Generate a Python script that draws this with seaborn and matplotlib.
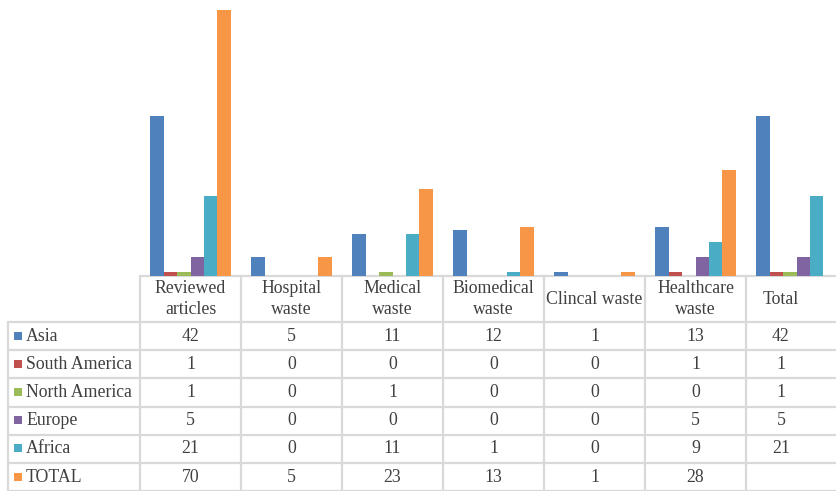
import numpy as np
import pandas as pd
import matplotlib
matplotlib.use("Agg")
import matplotlib.pyplot as plt
import seaborn as sns

categories = ["Reviewed\narticles", "Hospital\nwaste", "Medical\nwaste", "Biomedical\nwaste",
              "Clincal waste", "Healthcare\nwaste", "Total"]
regions = ["Asia", "South America", "North America", "Europe", "Africa", "TOTAL"]
asia = [42, 5, 11, 12, 1, 13, 42]
south_america = [1, 0, 0, 0, 0, 1, 1]
north_america = [1, 0, 1, 0, 0, 0, 1]
europe = [5, 0, 0, 0, 0, 5, 5]
africa = [21, 0, 11, 1, 0, 9, 21]
total = [70, 5, 23, 13, 1, 28, np.nan]
colors = ["#4F81BD", "#C0504D", "#9BBB59", "#8064A2", "#4BACC6", "#F79646"]

series = [asia, south_america, north_america, europe, africa, total]
rows = []
for reg, vals in zip(regions, series):
    for cat, v in zip(categories, vals):
        rows.append({"category": cat, "region": reg, "value": v})
df = pd.DataFrame(rows)

sns.set_style("white")
plt.rcParams["font.family"] = ["Liberation Serif", "DejaVu Serif"]

W, H = 836, 491
fig = plt.figure(figsize=(W / 100, H / 100), dpi=100)

# table geometry (pixels)
col_left = 140
col_w = 101
label_left = 8
base_y = 276
head_bottom = 322
row_h = 28.2
ncol = len(categories)

# bar axes aligned with table columns
ax = fig.add_axes([col_left / W, (H - base_y) / H, ncol * col_w / W, (base_y - 5) / H])
sns.barplot(data=df, x="category", y="value", hue="region", hue_order=regions,
            palette=colors, width=0.8, saturation=1, edgecolor="none", legend=False, ax=ax)
ax.set_xlim(-0.5, ncol - 0.5)
ax.set_ylim(0, 70 * (base_y - 5) / (base_y - 10))
ax.set_axis_off()

# table drawn in pixel coordinates
tx = fig.add_axes([0, 0, 1, 1], zorder=-1)
tx.set_xlim(0, W)
tx.set_ylim(H, 0)
tx.set_axis_off()
grid = "#D9D9D9"
lw = 1.6
right = col_left + ncol * col_w
bottom = head_bottom + row_h * len(regions)

tx.plot([col_left, right], [base_y, base_y], color=grid, lw=lw)
for i in range(len(regions) + 1):
    y = head_bottom + i * row_h
    tx.plot([label_left, right], [y, y], color=grid, lw=lw)
tx.plot([label_left, label_left], [head_bottom, bottom], color=grid, lw=lw)
for j in range(ncol + 1):
    x = col_left + j * col_w
    tx.plot([x, x], [base_y, bottom], color=grid, lw=lw)

fs = 12.8
for j, cat in enumerate(categories):
    cx = col_left + (j + 0.5) * col_w
    if cat == "Total":
        cx = 781
    tx.text(cx, (base_y + head_bottom) / 2, cat, ha="center", va="center",
            fontsize=fs, color="#404040", linespacing=1.3)

for i, (reg, vals) in enumerate(zip(regions, series)):
    cy = head_bottom + (i + 0.5) * row_h
    tx.add_patch(plt.Rectangle((14, cy - 4.5), 8, 8, color=colors[i], lw=0))
    tx.text(26, cy, reg, ha="left", va="center", fontsize=fs, color="#404040")
    for j, v in enumerate(vals):
        if np.isnan(v):
            continue
        cx = col_left + (j + 0.5) * col_w
        if j == ncol - 1:
            cx = 781
        tx.text(cx, cy, f"{int(v)}", ha="center", va="center", fontsize=fs, color="#404040")

fig.savefig("out.png", dpi=100)
